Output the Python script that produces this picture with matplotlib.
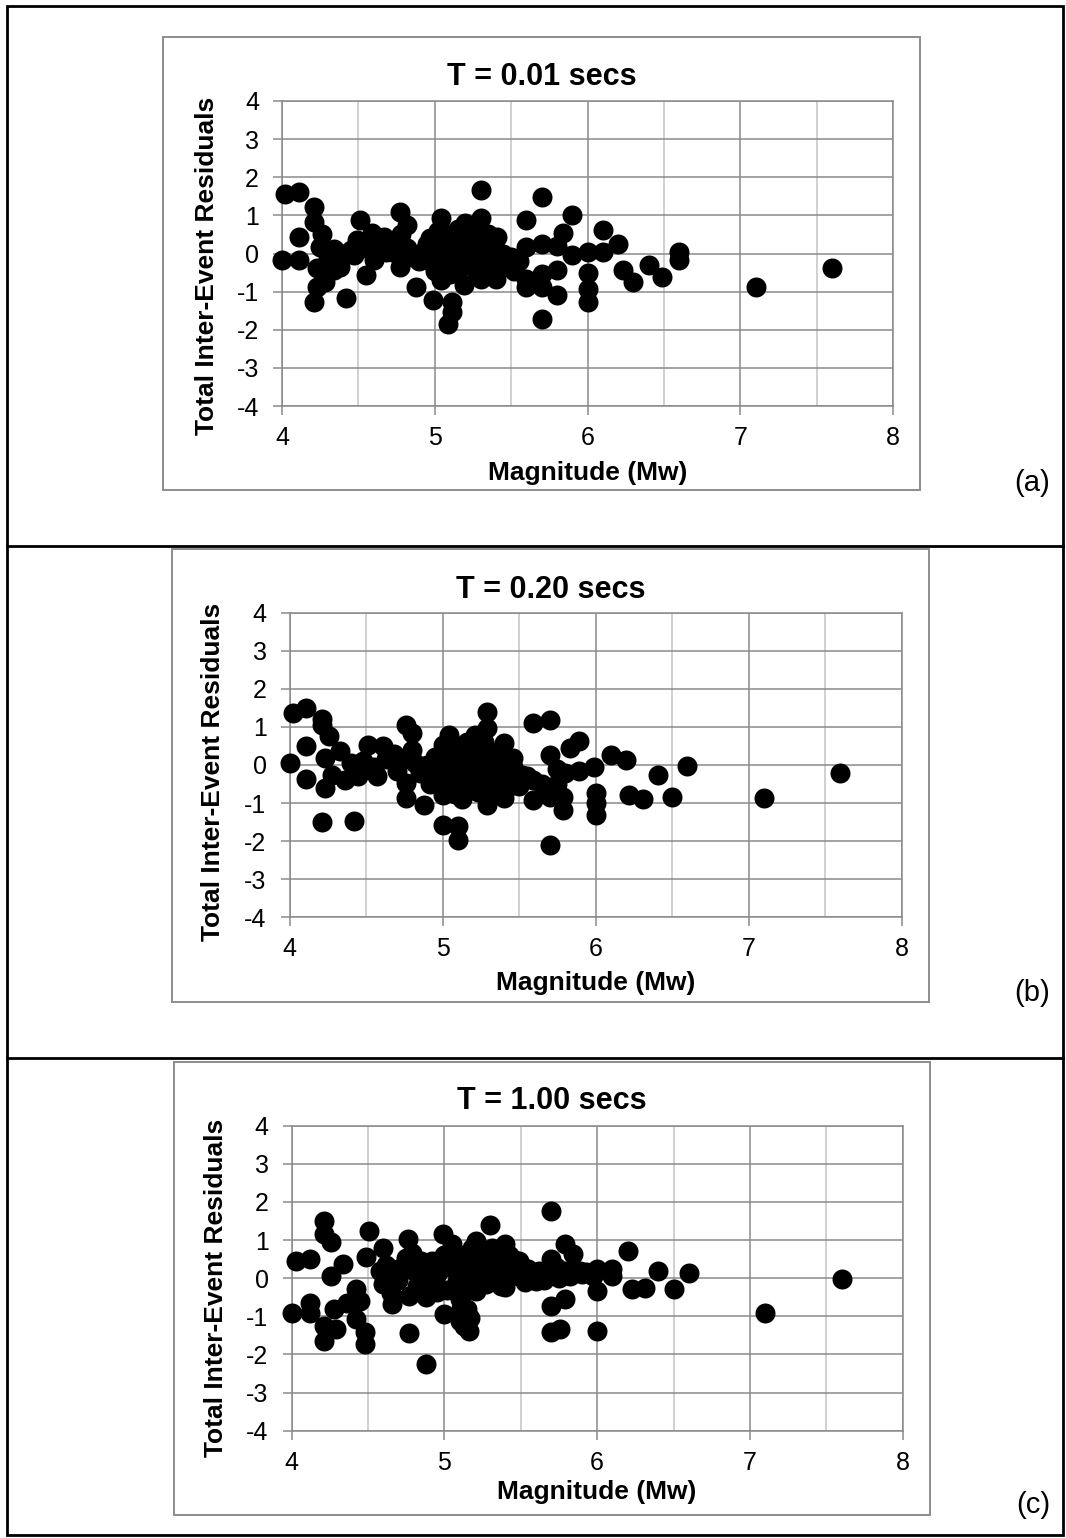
import matplotlib
matplotlib.use("Agg")
import matplotlib.pyplot as plt
from matplotlib.patches import Rectangle
from matplotlib.lines import Line2D
from matplotlib.ticker import MultipleLocator

plt.rcParams['font.family'] = ['Liberation Sans', 'DejaVu Sans']
plt.rcParams['axes.unicode_minus'] = False

# ---- data: magnitude (Mw) and total inter-event residual per event ----
mag_a = [4.00, 4.02, 4.11, 4.11, 4.11, 4.21, 4.21, 4.21, 4.23, 4.26, 4.25, 4.28, 4.30, 4.34,
         4.34, 4.38, 4.42, 4.45, 4.49, 4.51, 4.55, 4.59, 4.62, 4.60, 4.67, 4.70, 4.72, 4.77,
         4.77, 4.78, 4.82, 4.82, 4.86, 4.88, 4.90, 4.99, 5.04, 5.09, 5.11, 5.11, 5.19, 5.30,
         5.30, 5.30, 5.41, 5.40, 5.60, 5.60, 5.60, 5.60, 5.70, 5.70, 5.70, 5.70, 5.70, 5.80,
         5.80, 5.80, 5.84, 5.90, 5.90, 6.00, 6.00, 6.00, 6.00, 6.10, 6.10, 6.20, 6.23, 6.30,
         6.40, 6.49, 6.60, 6.60, 7.10, 7.60,
         4.40, 4.47, 4.55, 4.68, 4.75, 4.80, 4.23, 4.35,
         4.92, 4.95, 4.97, 5.00, 5.00, 5.02, 5.03, 5.04, 5.05, 5.06, 5.08, 5.10, 5.10, 5.12,
         5.13, 5.15, 5.16, 5.18, 5.20, 5.20, 5.22, 5.24, 5.25, 5.27, 5.28, 5.30, 5.32, 5.34,
         5.36, 5.38, 5.40, 5.42, 5.45, 5.48, 5.50, 5.52, 5.55,
         5.14, 5.26, 5.08, 5.18, 5.35, 5.00, 4.97, 5.22, 5.04, 5.12, 5.30]
res_a = [-0.18, 1.56, 1.62, 0.44, -0.18, 1.23, 0.83, -1.27, -0.88, 0.52, 0.17, -0.74, -0.10, -0.44,
         0.13, -0.35, -1.18, 0.10, 0.35, 0.88, -0.57, 0.53, 0.20, -0.18, 0.44, 0.30, 0.05, 1.09,
         -0.35, 0.50, 0.74, 0.15, -0.09, -0.88, -0.20, -1.23, 0.92, -1.84, -1.53, -1.27, -0.83, 1.66,
         0.92, -0.66, 0.43, -0.66, 0.88, 0.18, -0.66, -0.87, 1.49, 0.26, -0.53, -0.88, -1.71, -0.44,
         -1.09, 0.20, 0.53, 1.01, -0.04, 0.04, -0.52, -0.92, -1.27, 0.61, 0.04, 0.26, -0.44, -0.74,
         -0.31, -0.61, 0.04, -0.18, -0.89, -0.37,
         0.00, -0.05, 0.15, 0.05, 0.20, -0.05, -0.39, -0.30,
         0.05, 0.25, -0.20, 0.45, -0.45, 0.60, 0.10, -0.70, 0.35, -0.25, 0.00, 0.50, -0.55, 0.20,
         -0.10, 0.65, -0.40, 0.30, 0.80, 0.05, -0.25, 0.50, 0.15, -0.45, 0.35, 0.00, -0.30, 0.20,
         0.10, -0.20, 0.10, -0.35, 0.00, -0.25, -0.10, -0.45, -0.20,
         0.35, 0.65, 0.30, -0.20, 0.50, 0.20, 0.40, 0.25, -0.45, -0.30, -0.45]

mag_b = [4.00, 4.02, 4.11, 4.11, 4.11, 4.21, 4.21, 4.26, 4.23, 4.23, 4.21, 4.28, 4.33, 4.36,
         4.40, 4.42, 4.45, 4.48, 4.51, 4.55, 4.57, 4.61, 4.63, 4.68, 4.70, 4.72, 4.76, 4.80,
         4.80, 4.76, 4.76, 4.82, 4.85, 4.88, 4.90, 5.00, 5.10, 5.10, 5.29, 5.29, 5.04, 5.21,
         5.00, 5.40, 5.46, 5.29, 5.40, 5.59, 5.70, 5.70, 5.83, 5.89, 5.89, 5.99, 6.10, 6.20,
         6.22, 6.00, 6.00, 6.00, 5.79, 5.79, 5.70, 5.59, 5.59, 5.50, 5.70, 6.31, 6.41, 6.50,
         6.60, 7.10, 7.60,
         5.65, 5.75, 5.80, 5.75, 5.55,
         4.92, 4.95, 4.97, 5.00, 5.00, 5.02, 5.03, 5.05, 5.06, 5.08, 5.08, 5.10, 5.12, 5.13,
         5.14, 5.16, 5.17, 5.19, 5.20, 5.22, 5.23, 5.25, 5.27, 5.28, 5.30, 5.32, 5.33, 5.35,
         5.37, 5.38, 5.42, 5.44, 5.46, 5.48, 5.52,
         5.00, 5.06, 5.12, 5.18, 5.24, 5.15, 5.05, 5.30, 5.36, 5.10, 4.95, 5.25]
res_b = [0.05, 1.36, 1.49, 0.49, -0.37, 1.20, 1.05, 0.77, 0.18, -0.61, -1.51, -0.25, 0.36, -0.39,
         0.05, -1.48, -0.30, 0.10, 0.53, -0.05, -0.30, 0.49, 0.15, 0.30, -0.15, 0.10, 1.05, 0.84,
         0.40, -0.48, -0.87, 0.05, -0.20, -1.04, 0.00, -1.57, -1.61, -1.96, 1.40, 0.97, 0.79, 0.79,
         0.53, 0.57, 0.18, -1.04, -0.87, 1.10, 1.17, 0.27, 0.44, 0.63, -0.17, -0.06, 0.27, 0.14,
         -0.79, -0.74, -1.00, -1.31, -1.18, -0.83, -0.83, -0.91, -0.39, -0.56, -2.09, -0.88, -0.26, -0.83,
         -0.02, -0.86, -0.20,
         -0.50, -0.50, -0.20, -0.10, -0.30,
         -0.50, 0.20, -0.30, -0.80, 0.10, 0.35, -0.55, -0.15, 0.55, 0.15, -0.75, -0.35, 0.35, -0.90,
         0.00, 0.60, -0.55, 0.20, -0.20, 0.45, -0.70, 0.00, 0.60, -0.40, 0.25, -0.15, -0.75, 0.35,
         -0.35, 0.05, -0.20, -0.55, -0.05, -0.40, -0.25,
         -0.35, -0.45, -0.60, 0.40, 0.30, 0.20, 0.30, -0.50, -0.05, 0.50, -0.10, -0.30]

mag_c = [4.00, 4.03, 4.12, 4.12, 4.12, 4.21, 4.21, 4.26, 4.34, 4.26, 4.21, 4.29, 4.21, 4.28,
         4.36, 4.42, 4.45, 4.42, 4.48, 4.48, 4.51, 4.49, 4.60, 4.58, 4.60, 4.66, 4.66, 4.70,
         4.77, 4.76, 4.79, 4.75, 4.77, 4.88, 4.88, 4.88, 4.92, 4.99, 5.05, 5.00, 5.10, 5.16,
         5.11, 5.13, 5.08, 5.30, 5.21, 5.40, 5.21, 5.40, 5.70, 5.70, 5.70, 5.70, 5.76, 5.79,
         5.84, 5.79, 5.60, 5.49, 5.89, 6.00, 6.00, 6.00, 6.10, 6.10, 6.20, 6.23, 6.31, 6.40,
         6.50, 6.60, 7.10, 7.60,
         4.62, 4.65, 4.68, 4.72, 4.80, 4.82, 4.85, 4.90, 4.95, 5.10, 5.15, 5.17,
         4.95, 5.00, 5.02, 5.03, 5.06, 5.10, 5.12, 5.14, 5.16, 5.18, 5.20, 5.23, 5.25, 5.27,
         5.29, 5.31, 5.33, 5.35, 5.37, 5.39, 5.42, 5.44, 5.47, 5.50, 5.53, 5.55, 5.58, 5.62,
         5.65, 5.68, 5.73, 5.75, 5.78, 5.82, 5.85, 5.90, 5.93, 5.97,
         5.05, 5.20, 5.25, 5.35, 5.45, 5.15, 5.30, 5.40, 5.50, 5.10]
res_c = [-0.91, 0.46, 0.50, -0.64, -0.92, 1.49, 1.15, 0.96, 0.37, 0.06, -1.66, -1.33, -1.25, -0.81,
         -0.64, -0.29, -0.59, -1.07, -1.42, -1.73, 1.24, 0.56, 0.79, 0.19, -0.16, -0.68, 0.25, -0.05,
         -1.45, 1.02, 0.67, 0.54, -0.46, -2.25, -0.50, 0.11, 0.46, 1.15, 0.89, -0.94, -1.12, -1.38,
         -0.77, -1.25, -0.07, 1.40, 0.98, 0.89, -0.33, -0.24, 1.75, 0.50, -0.72, -1.42, -1.33, 0.89,
         0.63, -0.55, -0.07, 0.46, 0.19, 0.24, -0.33, -1.38, 0.24, 0.05, 0.72, -0.29, -0.27, 0.20,
         -0.28, 0.13, -0.92, -0.02,
         0.35, -0.40, 0.05, 0.30, 0.20, -0.20, 0.45, -0.25, -0.35, -0.55, -0.80, -1.05,
         0.10, 0.60, -0.30, 0.30, 0.70, 0.20, -0.35, 0.55, 0.00, 0.80, 0.35, 0.05, 0.65, -0.15,
         0.30, 0.80, 0.10, 0.55, -0.20, 0.30, 0.60, 0.05, 0.35, 0.10, -0.10, 0.25, 0.10, 0.20,
         -0.05, 0.15, 0.30, 0.00, 0.20, 0.05, 0.25, 0.10, 0.15, 0.05,
         0.40, 0.60, 0.20, 0.25, 0.50, 0.30, 0.55, 0.10, 0.35, 0.60]

titles = ["T = 0.01 secs", "T = 0.20 secs", "T = 1.00 secs"]
panel_tags = ["(a)", "(b)", "(c)"]
x_ticks = [4, 5, 6, 7, 8]
y_ticks = [-4, -3, -2, -1, 0, 1, 2, 3, 4]

W, H = 1066, 1538
fig = plt.figure(figsize=(W / 100, H / 100), dpi=100)


def fig_xy(x, y):
    return x / W, 1 - y / H


def add_rect(x0, y0, x1, y1, color, lw):
    fig.add_artist(Rectangle((x0 / W, 1 - y1 / H), (x1 - x0) / W, (y1 - y0) / H,
                             transform=fig.transFigure, fill=False,
                             edgecolor=color, linewidth=lw))


def add_hline(y, x0, x1, color, lw):
    fig.add_artist(Line2D([x0 / W, x1 / W], [1 - y / H, 1 - y / H],
                          transform=fig.transFigure, color=color, linewidth=lw))


# outer table frame and row separators
add_rect(7, 6, 1063, 1535, 'black', 2.0)
add_hline(546, 7, 1063, 'black', 2.0)
add_hline(1058, 7, 1063, 'black', 2.0)

# per panel layout in pixels: plot area, chart frame, text positions
layouts = [
    dict(plot=(282, 101, 893, 406), box=(163, 37, 920, 490), title_y=77,
         ylab=(207, 266), xlab_y=473, tag=(1032, 483)),
    dict(plot=(289.5, 612.7, 901.7, 917.3), box=(172, 549, 929, 1002), title_y=590,
         ylab=(213, 772), xlab_y=983, tag=(1032, 993)),
    dict(plot=(291.5, 1125.7, 902.8, 1430.7), box=(174, 1062, 930, 1515), title_y=1101,
         ylab=(216, 1288), xlab_y=1492, tag=(1033, 1505)),
]
datasets = [(mag_a, res_a), (mag_b, res_b), (mag_c, res_c)]

major_grid = '#8a8a8a'
minor_grid = '#c4c4c4'

for lay, (mx, ry), title, tag in zip(layouts, datasets, titles, panel_tags):
    x0, y0, x1, y1 = lay['plot']
    ax = fig.add_axes([x0 / W, 1 - y1 / H, (x1 - x0) / W, (y1 - y0) / H])
    ax.set_xlim(4, 8)
    ax.set_ylim(-4, 4)
    ax.set_xticks(x_ticks)
    ax.set_yticks(y_ticks)
    ax.xaxis.set_minor_locator(MultipleLocator(0.5))
    ax.grid(True, which='major', color=major_grid, linewidth=1.1)
    ax.grid(True, which='minor', axis='x', color=minor_grid, linewidth=1.1)
    ax.tick_params(which='minor', length=0)
    ax.tick_params(which='major', direction='out', length=6.5, width=1.1,
                   color=major_grid, labelsize=18, labelcolor='black')
    ax.tick_params(axis='y', pad=10)
    ax.tick_params(axis='x', pad=8)
    for sp in ax.spines.values():
        sp.set_color(major_grid)
        sp.set_linewidth(1.1)
    ax.set_axisbelow(True)
    ax.plot(mx, ry, 'o', color='black', markersize=14.4, markeredgewidth=0,
            clip_on=False, zorder=3)

    bx0, by0, bx1, by1 = lay['box']
    add_rect(bx0, by0, bx1, by1, '#8c8c8c', 1.4)

    cx, ty = fig_xy((bx0 + bx1) / 2, lay['title_y'])
    fig.text(cx, ty, title, ha='center', va='center', fontsize=22, fontweight='bold')
    lx, ly = fig_xy(*lay['ylab'])
    fig.text(lx, ly, "Total Inter-Event Residuals", ha='center', va='center',
             rotation=90, fontsize=19, fontweight='bold')
    mx_, my_ = fig_xy((x0 + x1) / 2, lay['xlab_y'])
    fig.text(mx_, my_, "Magnitude (Mw)", ha='center', va='center',
             fontsize=19, fontweight='bold')
    tx, tyy = fig_xy(*lay['tag'])
    fig.text(tx, tyy, tag, ha='center', va='center', fontsize=21)

fig.savefig("out.png", dpi=100)
